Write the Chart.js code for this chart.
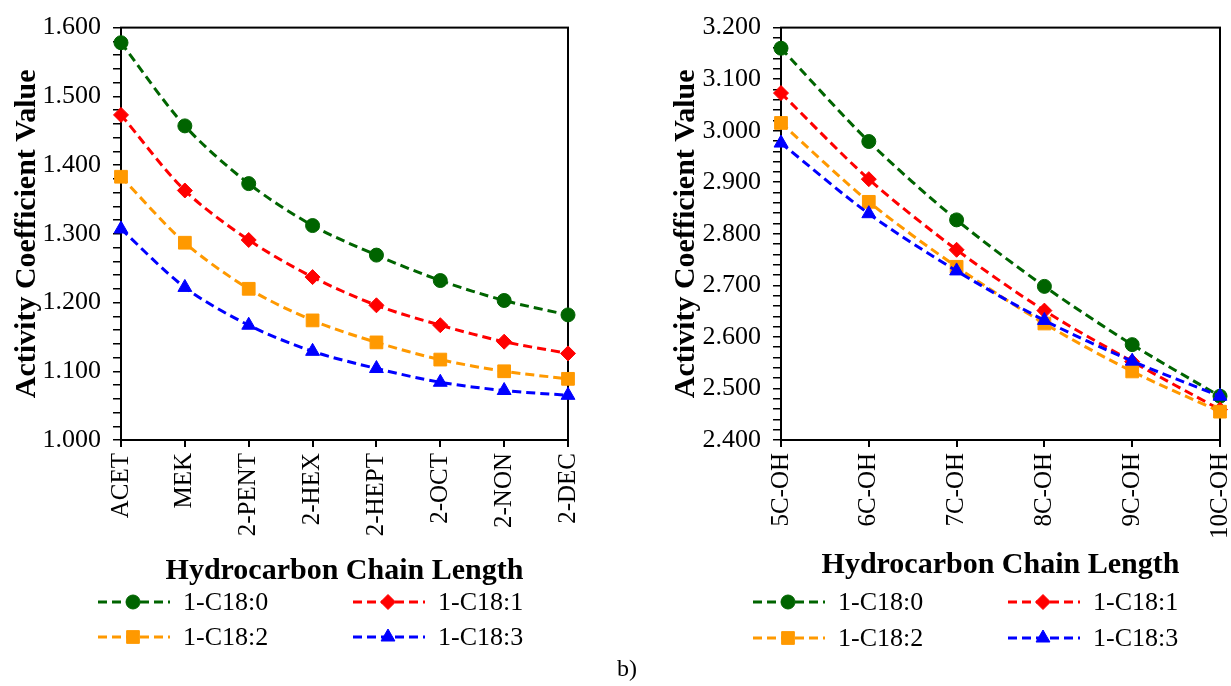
<!DOCTYPE html>
<html>
<head>
<meta charset="utf-8">
<script src="https://cdn.jsdelivr.net/npm/chart.js@4.4.1/dist/chart.umd.min.js"></script>
<style>
  body { margin: 0; background: #fff; width: 1231px; height: 686px; position: relative; overflow: hidden; }
  canvas { position: absolute; top: 0; }
  #left { left: 0; }
  #right { left: 615px; }
  #tag { position: absolute; left: 617px; top: 655px; font: 24px "Liberation Serif", serif; }
</style>
</head>
<body>
<canvas id="left" width="615" height="686" style="width:615px;height:686px"></canvas>
<canvas id="right" width="616" height="686" style="width:616px;height:686px"></canvas>
<div id="tag">b)</div>
<script>
// =========================
// DATA
// =========================
const seriesNames = ["1-C18:0", "1-C18:1", "1-C18:2", "1-C18:3"];

const leftCategories = ["ACET", "MEK", "2-PENT", "2-HEX", "2-HEPT", "2-OCT", "2-NON", "2-DEC"];
const leftC180 = [1.578, 1.457, 1.373, 1.312, 1.269, 1.232, 1.203, 1.182];
const leftC181 = [1.473, 1.363, 1.291, 1.237, 1.196, 1.167, 1.143, 1.126];
const leftC182 = [1.383, 1.287, 1.220, 1.174, 1.142, 1.117, 1.100, 1.089];
const leftC183 = [1.307, 1.222, 1.167, 1.129, 1.104, 1.084, 1.072, 1.065];
const leftYRange = [1.0, 1.6];

const rightCategories = ["5C-OH", "6C-OH", "7C-OH", "8C-OH", "9C-OH", "10C-OH"];
const rightC180 = [3.160, 2.979, 2.827, 2.698, 2.585, 2.485];
const rightC181 = [3.073, 2.906, 2.769, 2.651, 2.552, 2.459];
const rightC182 = [3.015, 2.862, 2.736, 2.626, 2.533, 2.455];
const rightC183 = [2.976, 2.839, 2.728, 2.632, 2.553, 2.485];
const rightYRange = [2.4, 3.2];

const yTitle = "Activity Coefficient Value";
const xTitle = "Hydrocarbon Chain Length";

// =========================
// STYLE
// =========================
const colors = ["#006400", "#ff0000", "#ff9900", "#0000ff"];
const markers = ["circle", "rectRot", "rect", "triangle"];
const radii = [7, 7.5, 9, 8];
const SERIF = '"Liberation Serif", "Times New Roman", serif';

// =========================
// PLUGIN: frame, x title, legend
// =========================
const frameAndLegend = {
  id: "frameAndLegend",
  beforeDatasetsDraw(chart) {
    const { ctx, chartArea: a } = chart;
    ctx.save();
    ctx.strokeStyle = "#000";
    ctx.lineWidth = 2;
    ctx.strokeRect(a.left, a.top, a.right - a.left, a.bottom - a.top);
    ctx.restore();
  },
  afterDraw(chart, args, opts) {
    const { ctx, chartArea: a } = chart;
    ctx.save();
    ctx.fillStyle = "#000";
    ctx.font = "bold 30px " + SERIF;
    ctx.textAlign = "center";
    ctx.textBaseline = "middle";
    ctx.fillText(xTitle, (a.left + a.right) / 2, opts.titleY);

    chart.data.datasets.forEach((ds, i) => {
      const x0 = opts.cols[i % 2];
      const y = opts.rows[Math.floor(i / 2)];
      ctx.strokeStyle = ds.borderColor;
      ctx.lineWidth = 3;
      ctx.setLineDash([9, 5]);
      ctx.beginPath();
      ctx.moveTo(x0, y);
      ctx.lineTo(x0 + 72, y);
      ctx.stroke();
      ctx.setLineDash([]);
      ctx.fillStyle = ds.pointBackgroundColor;
      ctx.strokeStyle = ds.pointBorderColor;
      ctx.lineWidth = 1;
      Chart.helpers.drawPoint(ctx, { pointStyle: ds.pointStyle, radius: ds.pointRadius, rotation: 0, borderWidth: 1 }, x0 + 35, y);
      ctx.fillStyle = "#000";
      ctx.font = "26px " + SERIF;
      ctx.textAlign = "left";
      ctx.fillText(ds.label, x0 + 85, y + 1);
    });
    ctx.restore();
  }
};

// =========================
// BUILD CHART
// =========================
function makeChart(id, categories, series, yRange, lay) {
  const datasets = series.map((vals, i) => ({
    label: seriesNames[i],
    data: vals,
    borderColor: colors[i],
    backgroundColor: colors[i],
    pointBackgroundColor: colors[i],
    pointBorderColor: colors[i],
    pointStyle: markers[i],
    pointRadius: radii[i],
    pointBorderWidth: 1,
    borderWidth: 3,
    borderDash: [9, 5],
    tension: 0.3,
    fill: false,
    order: series.length - i
  }));

  return new Chart(document.getElementById(id), {
    type: "line",
    data: { labels: categories, datasets },
    plugins: [frameAndLegend],
    options: {
      responsive: false,
      animation: false,
      events: [],
      layout: { padding: { top: lay.top, right: lay.right, bottom: 0, left: 0 } },
      plugins: {
        legend: { display: false },
        tooltip: { enabled: false },
        frameAndLegend: lay.legend
      },
      scales: {
        x: {
          offset: false,
          border: { color: "#000", width: 2 },
          grid: { drawOnChartArea: false, drawTicks: true, tickLength: 7, color: "#000", lineWidth: 2 },
          ticks: {
            color: "#000",
            font: { family: SERIF, size: 25 },
            minRotation: 90,
            maxRotation: 90,
            padding: 6,
            autoSkip: false
          },
          afterFit(scale) {
            scale.height = 686 - lay.bottom;
            scale.paddingLeft = 0;
            scale.paddingRight = 0;
          }
        },
        y: {
          min: yRange[0],
          max: yRange[1],
          border: { color: "#000", width: 2 },
          grid: { drawOnChartArea: false, drawTicks: true, tickLength: 8, color: "#000", lineWidth: 1.5 },
          ticks: {
            stepSize: 0.02,
            autoSkip: false,
            color: "#000",
            padding: 12,
            font: { family: SERIF, size: 26 },
            callback(v) {
              const t = v * 10;
              return Math.abs(t - Math.round(t)) < 1e-6 ? Number(v).toFixed(3) : "";
            }
          },
          title: {
            display: true,
            text: yTitle,
            color: "#000",
            font: { family: SERIF, size: 30, weight: "bold" },
            padding: { top: lay.yTitlePad, bottom: 0 }
          },
          afterFit(scale) { scale.width = lay.left; }
        }
      }
    }
  });
}

// =========================
// INIT
// =========================
makeChart("left", leftCategories, [leftC180, leftC181, leftC182, leftC183], leftYRange, {
  top: 24, right: 47, bottom: 440, left: 121, yTitlePad: 9,
  legend: { titleY: 571, cols: [98, 353], rows: [602, 637] }
});

makeChart("right", rightCategories, [rightC180, rightC181, rightC182, rightC183], rightYRange, {
  top: 23, right: 11, bottom: 440, left: 166, yTitlePad: 53,
  legend: { titleY: 565, cols: [138, 393], rows: [602, 638] }
});
</script>
</body>
</html>
